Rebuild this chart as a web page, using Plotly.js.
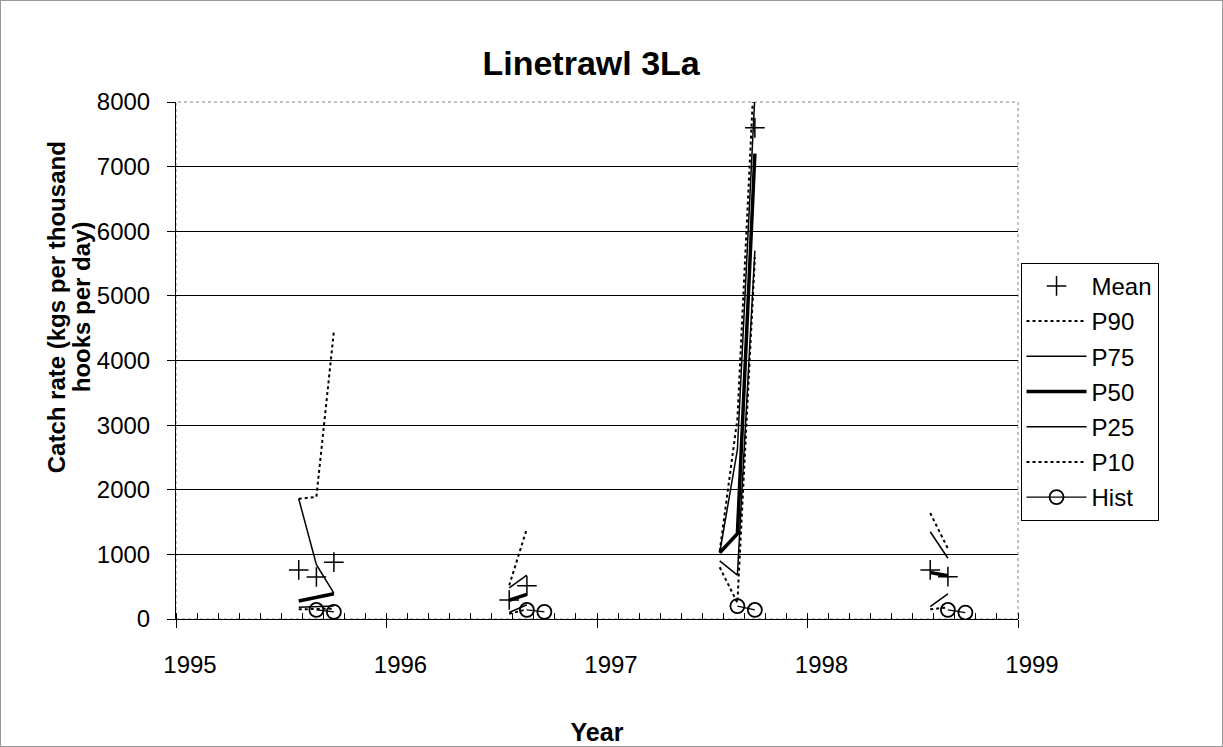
<!DOCTYPE html>
<html>
<head>
<meta charset="utf-8">
<script src="https://cdn.plot.ly/plotly-3.0.1.min.js"></script>
<style>
html,body{margin:0;padding:0;background:#fff;}
#chart{width:1221px;height:745px;border:1px solid #999;}
</style>
</head>
<body>
<div id="chart"></div>
<script>
// Decimal-year positions of the survey months (Jul, Aug, Sep) for each year; null = break between years
const xYears = [1995.583, 1995.667, 1995.75, null,
                1996.583, 1996.667, 1996.75, null,
                1997.583, 1997.667, 1997.75, null,
                1998.583, 1998.667, 1998.75];
const meanVals = [760, 650, 880, null,   295, 515, null, null,   null, null, 7600, null,   760, 655, null];
const p90Vals  = [1860, 1890, 4450, null, 520, 1400, null, null,  1050, 3100, 8700, null,  1640, 1090, null];
const p75Vals  = [1860, 840, 400, null,  480, 680, null, null,   1025, 2620, 8100, null,  1350, 940, null];
const p50Vals  = [280, 330, 390, null,   290, 380, null, null,   1025, 1320, 7200, null,  720, 670, null];
const p25Vals  = [180, 190, 200, null,   100, 220, null, null,   900, 680, 5700, null,    190, 390, null];
const p10Vals  = [150, 150, 160, null,   80, 150, null, null,    800, 250, 5600, null,    150, 180, null];
const histVals = [null, 140, 110, null,  null, 140, 110, null,   null, 200, 140, null,    null, 140, 100];
const yearTicks = [1995, 1996, 1997, 1998, 1999];
const yTicks = [0, 1000, 2000, 3000, 4000, 5000, 6000, 7000, 8000];
const yTitleLines = ['Catch rate (kgs per thousand', 'hooks per day)'];

const FONT = 'Liberation Sans, Arial, sans-serif';

function lineTrace(name, vals, width, dash, grp) {
  return {x: xYears, y: vals, name: name, type: 'scatter', mode: 'lines',
          connectgaps: false, legendgroup: grp,
          line: {color: '#000', width: width, dash: dash}};
}

const traces = [
  {x: xYears, y: meanVals, name: 'Mean', type: 'scatter', mode: 'markers', legendgroup: 'a',
   marker: {symbol: 'cross-thin', size: 14, color: '#000', line: {color: '#000', width: 1.5}}},
  lineTrace('P90', p90Vals, 2, 'dot', 'b'),
  lineTrace('P75', p75Vals, 1.5, 'solid', 'c'),
  lineTrace('P50', p50Vals, 3.5, 'solid', 'd'),
  lineTrace('P25', p25Vals, 1.5, 'solid', 'e'),
  lineTrace('P10', p10Vals, 2, 'dot', 'f'),
  {x: xYears, y: histVals, name: 'Hist', type: 'scatter', mode: 'lines+markers', legendgroup: 'g',
   connectgaps: false,
   line: {color: '#000', width: 1.2},
   marker: {symbol: 'circle-open', size: 14, color: '#000', line: {color: '#000', width: 1.8}}}
];

const layout = {
  width: 1221, height: 745,
  margin: {l: 175, r: 204, t: 101, b: 127, pad: 0},
  paper_bgcolor: '#fff', plot_bgcolor: '#fff',
  font: {family: FONT, color: '#000', size: 24},
  showlegend: true,
  title: {text: '<b>Linetrawl 3La</b>', font: {family: FONT, size: 34, color: '#000'},
          xref: 'paper', x: 0.493, xanchor: 'center', y: 0.917, yanchor: 'middle'},
  xaxis: {
    range: [1995, 1999], tickmode: 'array', tickvals: yearTicks, ticktext: yearTicks.map(String),
    ticks: 'outside', ticklen: 8, tickwidth: 1, tickcolor: '#000',
    showline: true, linecolor: '#000', linewidth: 1, showgrid: false, zeroline: false,
    tickfont: {family: FONT, size: 24, color: '#000'},
    ticklabelstandoff: 16, ticklabelshift: 14,
    minor: {tickmode: 'linear', tick0: 1995, dtick: 0.1, ticks: 'inside', ticklen: 6, tickcolor: '#000', tickwidth: 1, showgrid: false},
    title: {text: '<b>Year</b>', font: {family: FONT, size: 25, color: '#000'}, standoff: 56}
  },
  yaxis: {
    range: [0, 8000], tickmode: 'array', tickvals: yTicks, ticktext: yTicks.map(String),
    ticks: 'outside', ticklen: 8, tickwidth: 1, tickcolor: '#000',
    showline: true, linecolor: '#000', linewidth: 1,
    showgrid: true, gridcolor: '#000', gridwidth: 1, zeroline: false,
    tickfont: {family: FONT, size: 24, color: '#000'},
    ticklabelstandoff: 12
  },
  annotations: yTitleLines.map((t, i) => ({
    text: '<b>' + t + '</b>',
    xref: 'paper', yref: 'paper', x: (i === 0 ? -0.1425 : -0.1128), y: 0.603,
    xanchor: 'center', yanchor: 'middle',
    textangle: -90, showarrow: false, font: {family: FONT, size: 24, color: '#000'}
  })),
  shapes: [{type: 'rect', xref: 'paper', yref: 'paper', x0: 0, x1: 1, y0: 0, y1: 1,
            line: {color: '#888', width: 1, dash: 'dot'}, layer: 'below'}],
  legend: {
    x: 1.003, xanchor: 'left', y: 0.689, yanchor: 'top',
    bordercolor: '#000', borderwidth: 1, bgcolor: '#fff',
    font: {family: FONT, size: 24, color: '#000'},
    tracegroupgap: 1, itemwidth: 60
  }
};

Plotly.newPlot('chart', traces, layout, {displayModeBar: false, staticPlot: true});
</script>
</body>
</html>
